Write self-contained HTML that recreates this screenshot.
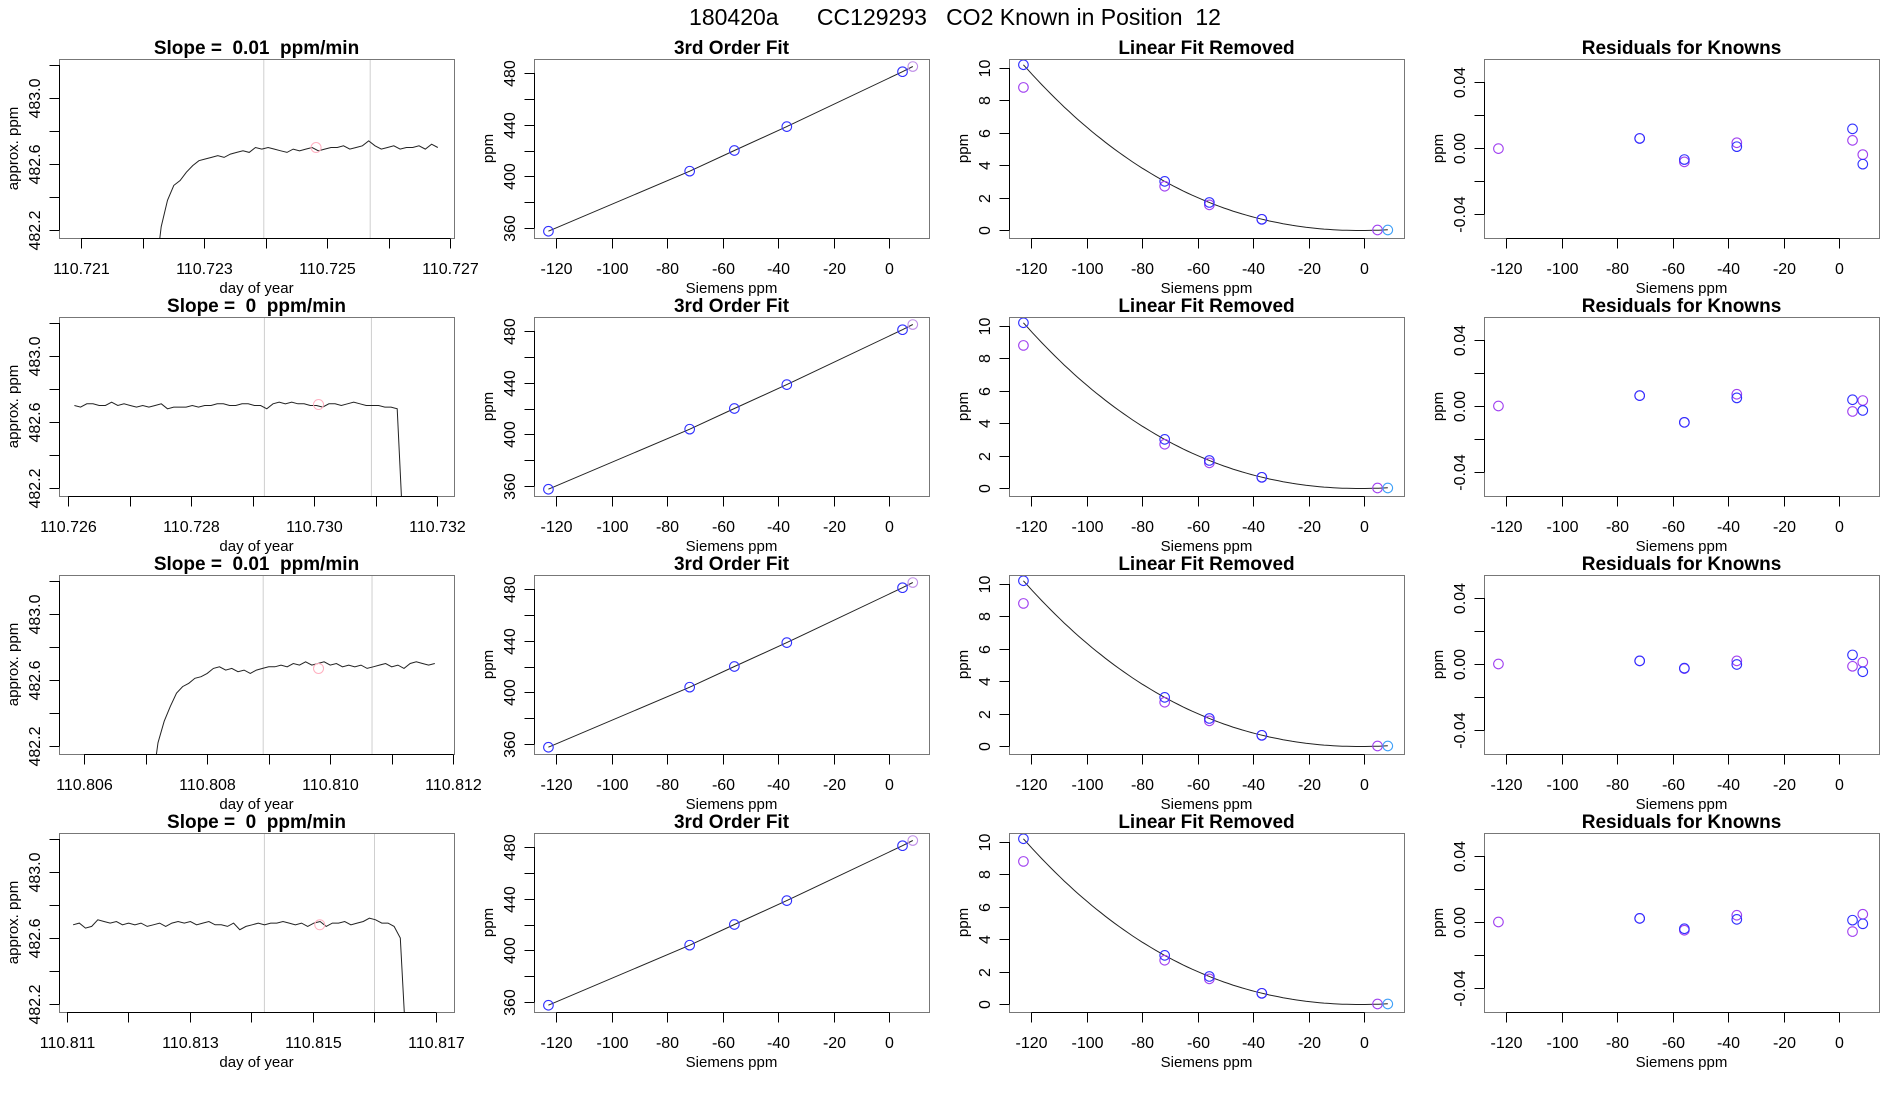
<!DOCTYPE html>
<html><head><meta charset="utf-8">
<style>
html,body{margin:0;padding:0;background:#fff;}
svg{display:block;font-family:"Liberation Sans",sans-serif;}
</style></head>
<body>
<svg id="chart" width="1900" height="1100" viewBox="0 0 1900 1100" xmlns="http://www.w3.org/2000/svg">
<text x="955" y="25" text-anchor="middle" font-size="23" style="white-space:pre">180420a      CC129293   CO2 Known in Position  12</text>
</svg>
<script>
// ---- time-series data (day of year) ----
const tsStart = [110.7222, 110.7261, 110.8071, 110.8111];
const tsEnd   = [110.7268, 110.73145, 110.8117, 110.81652];
const tsRow1 = [481.9,482.22,482.38,482.47,482.50,482.55,482.59,482.62,482.63,482.64,482.65,482.64,482.66,482.67,482.68,482.67,482.70,482.69,482.70,482.69,482.68,482.67,482.69,482.68,482.69,482.70,482.68,482.69,482.70,482.70,482.71,482.69,482.70,482.71,482.74,482.71,482.69,482.70,482.71,482.69,482.70,482.70,482.71,482.69,482.72,482.70];
const tsRow2 = [482.70,482.69,482.71,482.71,482.70,482.70,482.72,482.70,482.71,482.70,482.69,482.70,482.69,482.70,482.71,482.68,482.69,482.69,482.69,482.70,482.69,482.70,482.70,482.71,482.71,482.70,482.70,482.71,482.71,482.70,482.70,482.68,482.71,482.72,482.71,482.72,482.71,482.71,482.70,482.70,482.69,482.71,482.71,482.70,482.71,482.72,482.71,482.70,482.70,482.70,482.69,482.69,482.68,481.9];
const tsRow3 = [481.95,482.22,482.35,482.44,482.52,482.56,482.58,482.61,482.62,482.64,482.67,482.68,482.66,482.67,482.65,482.66,482.64,482.66,482.67,482.68,482.68,482.69,482.68,482.70,482.69,482.71,482.69,482.70,482.71,482.69,482.70,482.68,482.69,482.68,482.69,482.67,482.68,482.69,482.70,482.68,482.69,482.67,482.70,482.71,482.70,482.69,482.70];
const tsRow4 = [482.68,482.69,482.66,482.67,482.71,482.70,482.69,482.70,482.68,482.69,482.68,482.69,482.67,482.68,482.69,482.67,482.69,482.70,482.69,482.70,482.68,482.69,482.70,482.68,482.68,482.67,482.69,482.65,482.67,482.68,482.69,482.68,482.69,482.69,482.70,482.69,482.68,482.69,482.67,482.69,482.70,482.67,482.69,482.69,482.70,482.68,482.69,482.70,482.72,482.71,482.69,482.69,482.67,482.60,481.9];
const tsSeries = [tsRow1, tsRow2, tsRow3, tsRow4];
const tsXMin = [110.72064, 110.72585, 110.80559, 110.81087];
const tsXTickStart = [110.721, 110.726, 110.806, 110.811];
const tsXLabels = [["110.721","110.723","110.725","110.727"],["110.726","110.728","110.730","110.732"],["110.806","110.808","110.810","110.812"],["110.811","110.813","110.815","110.817"]];
const tsGrayLines = [[110.72397,110.72570],[110.72919,110.73093],[110.80891,110.81068],[110.81421,110.81600]];
const tsMarker = [[110.72482,482.70],[110.73007,482.706],[110.80981,482.67],[110.81511,482.68]];
const slopeText = ["0.01","0","0.01","0"];
const tsYTicks = [482.2,482.4,482.6,482.8,483.0,483.2];
const tsYLabels = ["482.2","","482.6","","483.0",""];
// ---- calibration data ----
const siemens = [-122.9,-72.0,-55.9,-37.0,4.7,8.4];
const fitPpm = [357.5,404,420,438.5,481,485];
const linRemBlue = [10.2,3.0,1.7,0.66,0.0,0.0];
const linRemPurple = [8.8,2.7,1.55,0.66,0.0];
const resBlue = [
 [-0.0004,0.0058,-0.0070,0.0008,0.0116,-0.0098],
 [0.0000,0.0063,-0.0099,0.0049,0.0038,-0.0027],
 [0.0000,0.0019,-0.0025,-0.0003,0.0055,-0.0047],
 [0.0000,0.0022,-0.0041,0.0016,0.0011,-0.0011]];
const resPurple = [
 [-0.0004,0.0058,-0.0084,0.0032,0.0046,-0.0040],
 [0.0000,0.0063,-0.0099,0.0071,-0.0033,0.0033],
 [0.0000,0.0019,-0.0028,0.0019,-0.0014,0.0011],
 [0.0000,0.0022,-0.0050,0.0041,-0.0058,0.0047]];
const sXTicks = [-120,-100,-80,-60,-40,-20,0];

const NS="http://www.w3.org/2000/svg";
const svg=document.getElementById('chart');
const BLUE="#3030ff", PURPLE="#a040f0", LBLUE="#3fa0f8", LPURP="#c090e8";
const W=395,H=179,COLX=[59,534,1009,1484],ROWY=[59,317,575,833];
const TICKFS=16, TITLEFS=19, AXFS=15;
function el(tag,attrs,parent){const e=document.createElementNS(NS,tag);for(const k in attrs)e.setAttribute(k,attrs[k]);(parent||svg).appendChild(e);return e;}
function txt(parent,x,y,s,size,extra){const t=el('text',Object.assign({x:x,y:y,'font-size':size,'text-anchor':'middle'},extra||{}),parent);t.textContent=s;return t;}
function line(g,x1,y1,x2,y2,stroke){return el('line',{x1:x1,y1:y1,x2:x2,y2:y2,stroke:stroke||'#000','stroke-width':1},g);}

function panel(r,c,title){
  const g=el('g',{});
  
  
  const x0=COLX[c],y0=ROWY[r];
  const t=txt(g,x0+W/2,y0-5,title,TITLEFS,{'font-weight':'bold',style:'white-space:pre'});
  
  
  const clip=el('clipPath',{id:'clip'+r+c},g);
  el('rect',{x:x0,y:y0,width:W,height:H},clip);
  return {g,x0,y0};
}
function box(g,x0,y0){const b=el('rect',{x:x0+0.5,y:y0+0.5,width:W,height:H,fill:'none',stroke:'#777','stroke-width':1},g);
  
  }
function xAxis(g,x0,y0,ticks,labels,sx,title){
  const ax=el('g',{},g);
  
  
  const yb=y0+H+0.5;
  line(ax,sx(ticks[0]),yb,sx(ticks[ticks.length-1]),yb);
  ticks.forEach((v,i)=>{const X=Math.round(sx(v))+0.5;line(ax,X,yb,X,yb+10);
    if(labels[i]){const t=txt(ax,X,y0+H+36,labels[i],TICKFS);
      
      }});
  const tt=txt(ax,x0+W/2,y0+H+55,title,AXFS);
  
  
}
function yAxis(g,x0,y0,ticks,labels,sy,title){
  const ax=el('g',{},g);
  
  
  const xl=x0+0.5;
  line(ax,xl,sy(ticks[0]),xl,sy(ticks[ticks.length-1]));
  ticks.forEach((v,i)=>{const Y=Math.round(sy(v))+0.5;line(ax,xl-10,Y,xl,Y);
    if(labels[i]){const cx=x0-24;const t=txt(ax,cx,Y+5,labels[i],TICKFS,{transform:'rotate(-90 '+cx+' '+Y+')'});
      
      }});
  const cx=x0-46,cy=y0+H/2;
  const tt=txt(ax,cx,cy+5,title,AXFS,{transform:'rotate(-90 '+cx+' '+cy+')'});
  
  
}
function circ(g,x,y,color,name){const c=el('circle',{cx:x,cy:y,r:4.8,fill:'none',stroke:color,'stroke-width':1.1},g);
  
  return c;}

const TSPX=61.5/0.001, TSYB=482.1515, TSPY=165;
const SXMIN=-128.1, SPX=2.775;
function sxS(x0){return v=>x0+(v-SXMIN)*SPX;}

for(let r=0;r<4;r++){
  {const p=panel(r,0,'Slope =  '+slopeText[r]+'  ppm/min');const {g,x0,y0}=p;
   const sx=v=>x0+(v-tsXMin[r])*TSPX, sy=v=>y0+H-(v-TSYB)*TSPY;
   tsGrayLines[r].forEach(v=>{const l=line(g,sx(v),y0,sx(v),y0+H,'#cfcfcf');
     
     });
   const vals=tsSeries[r],n=vals.length,dt=(tsEnd[r]-tsStart[r])/(n-1);
   const pts=vals.map((v,i)=>sx(tsStart[r]+i*dt).toFixed(1)+','+sy(v).toFixed(1)).join(' ');
   const pl=el('polyline',{points:pts,fill:'none',stroke:'#222','stroke-width':1,'clip-path':'url(#clip'+r+'0)'},g);
   
   
   const m=el('circle',{cx:sx(tsMarker[r][0]),cy:sy(tsMarker[r][1]),r:5,fill:'none',stroke:'#ffb0c0','stroke-width':1},g);
   
   
   const ticks=[];for(let k=0;k<7;k++)ticks.push(tsXTickStart[r]+k*0.001);
   const labs=ticks.map((v,k)=>k%2===0?tsXLabels[r][k/2]:'');
   box(g,x0,y0);
   xAxis(g,x0,y0,ticks,labs,sx,'day of year');
   yAxis(g,x0,y0,tsYTicks,tsYLabels,sy,'approx. ppm');
  }
  {const p=panel(r,1,'3rd Order Fit');const {g,x0,y0}=p;
   const sx=sxS(x0), sy=v=>y0+H-(v-352.26)*1.2917;
   const pts=siemens.map((s,i)=>sx(s).toFixed(1)+','+sy(fitPpm[i]).toFixed(1)).join(' ');
   const pl=el('polyline',{points:pts,fill:'none',stroke:'#222','stroke-width':1},g);
   
   
   siemens.forEach((s,i)=>circ(g,sx(s),sy(fitPpm[i]),i===5?LPURP:BLUE,'fit-point'));
   box(g,x0,y0);
   xAxis(g,x0,y0,sXTicks,sXTicks.map(String),sx,'Siemens ppm');
   yAxis(g,x0,y0,[360,380,400,420,440,460,480],['360','','400','','440','','480'],sy,'ppm');
  }
  {const p=panel(r,2,'Linear Fit Removed');const {g,x0,y0}=p;
   const sx=sxS(x0), sy=v=>y0+H-(v+0.494)*16.2;
   const n=siemens.length,M=[[0,0,0,0],[0,0,0,0],[0,0,0,0],[0,0,0,0]],b=[0,0,0,0];
   for(let i=0;i<n;i++){const xs=siemens[i]/100;for(let a=0;a<4;a++){b[a]+=Math.pow(xs,a)*linRemBlue[i];for(let c2=0;c2<4;c2++)M[a][c2]+=Math.pow(xs,a+c2);}}
   for(let i=0;i<4;i++){let mx=i;for(let k=i+1;k<4;k++)if(Math.abs(M[k][i])>Math.abs(M[mx][i]))mx=k;[M[i],M[mx]]=[M[mx],M[i]];[b[i],b[mx]]=[b[mx],b[i]];
     for(let k=i+1;k<4;k++){const f=M[k][i]/M[i][i];for(let j=i;j<4;j++)M[k][j]-=f*M[i][j];b[k]-=f*b[i];}}
   const co=[0,0,0,0];for(let i=3;i>=0;i--){let s=b[i];for(let j=i+1;j<4;j++)s-=M[i][j]*co[j];co[i]=s/M[i][i];}
   const cp=[];const a0=siemens[0],a1=siemens[n-1];
   for(let k=0;k<=80;k++){const xv=a0+(a1-a0)*k/80,xs=xv/100;const yv=co[0]+co[1]*xs+co[2]*xs*xs+co[3]*xs*xs*xs;cp.push(sx(xv).toFixed(1)+','+sy(yv).toFixed(1));}
   const pl=el('polyline',{points:cp.join(' '),fill:'none',stroke:'#222','stroke-width':1},g);
   
   
   linRemPurple.forEach((v,i)=>circ(g,sx(siemens[i]),sy(v),PURPLE,'purple-point'));
   linRemBlue.forEach((v,i)=>{if(i<4)circ(g,sx(siemens[i]),sy(v),BLUE,'blue-point');else if(i===5)circ(g,sx(siemens[i]),sy(v),LBLUE,'blue-point');});
   box(g,x0,y0);
   xAxis(g,x0,y0,sXTicks,sXTicks.map(String),sx,'Siemens ppm');
   yAxis(g,x0,y0,[0,2,4,6,8,10],['0','2','4','6','8','10'],sy,'ppm');
  }
  {const p=panel(r,3,'Residuals for Knowns');const {g,x0,y0}=p;
   const sx=sxS(x0), sy=v=>y0+H-(v+0.05455)*1650;
   resPurple[r].forEach((v,i)=>circ(g,sx(siemens[i]),sy(v),PURPLE,'purple-residual'));
   resBlue[r].forEach((v,i)=>{if(i>0)circ(g,sx(siemens[i]),sy(v),BLUE,'blue-residual');});
   box(g,x0,y0);
   xAxis(g,x0,y0,sXTicks,sXTicks.map(String),sx,'Siemens ppm');
   yAxis(g,x0,y0,[-0.04,-0.02,0,0.02,0.04],['-0.04','','0.00','','0.04'],sy,'ppm');
  }
}
</script>
</body></html>
